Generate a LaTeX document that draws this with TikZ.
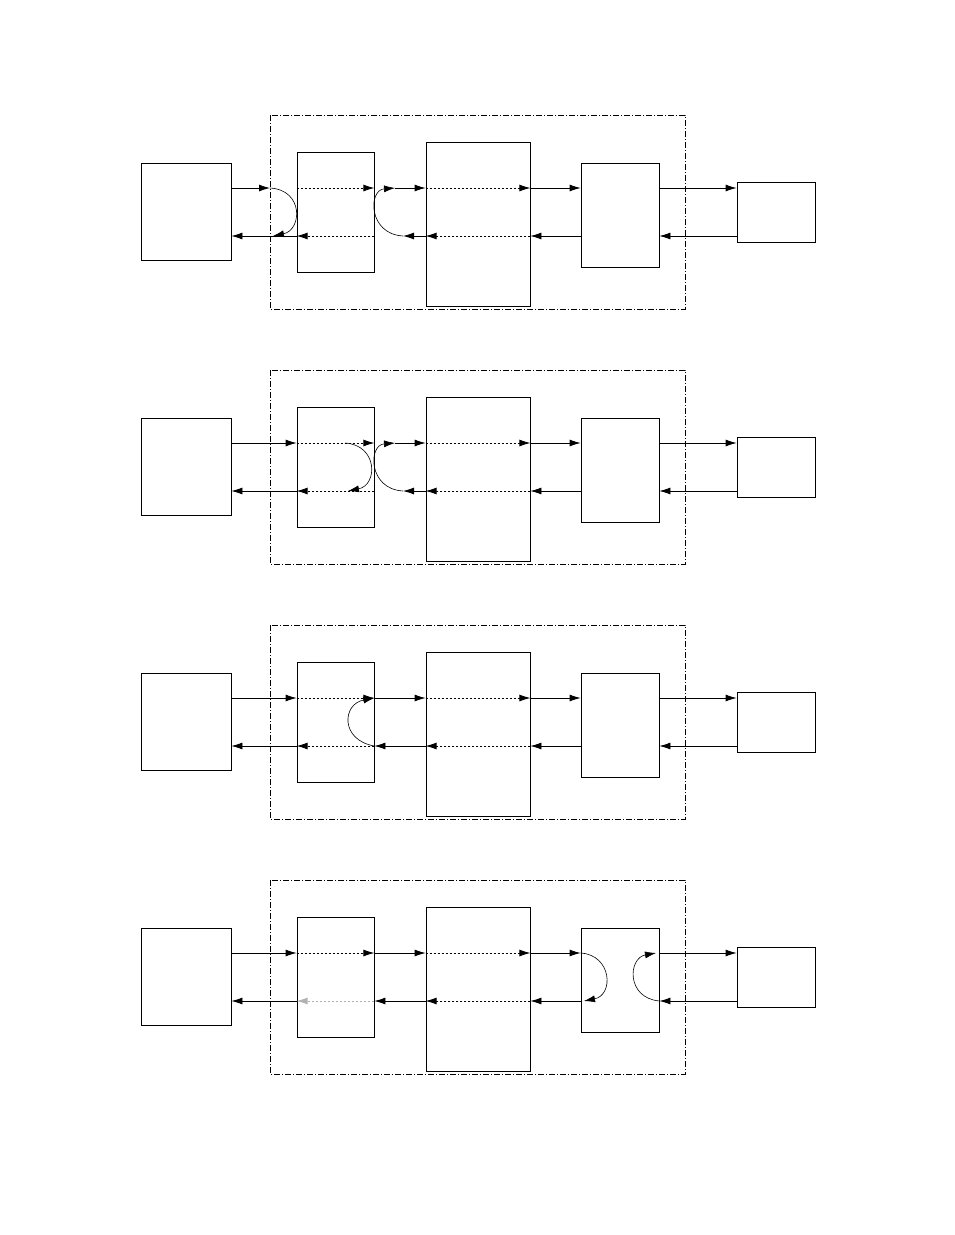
\documentclass[tikz,border=0pt]{standalone}
\usetikzlibrary{arrows.meta}
\tikzset{
    box/.style={draw, line width=0.8pt, inner sep=0pt},
    link/.style={line width=0.8pt, -{Latex[length=11pt,width=7pt]}},
    inner/.style={link, dash pattern=on 2.5pt off 1.5pt},
    turn/.style={line width=0.6pt, -{Latex[length=11pt,width=7pt]}},
    frame/.style={line width=0.6pt, dash pattern=on 6pt off 2pt on 1pt off 2pt}
}
\begin{document}
\begin{tikzpicture}[x=1pt,y=-1pt]
    \useasboundingbox (0,0) rectangle (954,1235);
    \foreach \p/\dy/\col in {1/0/black,2/255/black,3/510/black,4/765/gray!60} {
        % boxes of one panel
        \draw[frame] (270,115+\dy) rectangle (685,309+\dy);
        \node[box, minimum width=90pt, minimum height=97pt] (L\p) at (186,211.5+\dy) {};
        \node[box, minimum width=77pt, minimum height=120pt] (A\p) at (335.5,212+\dy) {};
        \node[box, minimum width=104pt, minimum height=164pt] (B\p) at (478,224+\dy) {};
        \node[box, minimum width=78pt, minimum height=104pt] (C\p) at (620,215+\dy) {};
        \node[box, minimum width=78pt, minimum height=60pt] (R\p) at (776,212+\dy) {};
        \coordinate (t\p) at (0,188+\dy);
        \coordinate (b\p) at (0,236+\dy);
        % shared connectors
        \draw[inner] (A\p.west |- t\p) -- (A\p.east |- t\p);
        \draw[inner] (B\p.west |- t\p) -- (B\p.east |- t\p);
        \draw[link] (B\p.east |- t\p) -- (C\p.west |- t\p);
        \draw[link] (C\p.east |- t\p) -- (R\p.west |- t\p);
        \draw[link] (R\p.west |- b\p) -- (C\p.east |- b\p);
        \draw[link] (C\p.west |- b\p) -- (B\p.east |- b\p);
        \draw[inner] (B\p.east |- b\p) -- (B\p.west |- b\p);
        \draw[inner, draw=\col] (A\p.east |- b\p) -- (A\p.west |- b\p);
    }
    % panel 1
    \coordinate (in1) at (270,188);
    \coordinate (out1) at (270,236);
    \draw[link] (L1.east |- t1) -- (in1);
    \draw (out1) -- (A1.west |- b1);
    \draw[link] (out1) -- (L1.east |- b1);
    \draw[turn] (in1) .. controls (304,190) and (302,230) .. (273,236);
    \coordinate (r1) at (403,236);
    \coordinate (s1) at (395,188);
    \draw[link] (B1.west |- b1) -- (r1);
    \draw[turn] (r1) .. controls (368,234) and (368,190) .. (s1);
    \draw[link] (s1) -- (B1.west |- t1);
    % panel 2
    \draw[link] (L2.east |- t2) -- (A2.west |- t2);
    \draw[link] (A2.west |- b2) -- (L2.east |- b2);
    \draw[turn] (345,443) .. controls (378,445) and (378,485) .. (348,491);
    \coordinate (r2) at (403,491);
    \coordinate (s2) at (395,443);
    \draw[link] (B2.west |- b2) -- (r2);
    \draw[turn] (r2) .. controls (368,489) and (368,445) .. (s2);
    \draw[link] (s2) -- (B2.west |- t2);
    % panel 3
    \draw[link] (L3.east |- t3) -- (A3.west |- t3);
    \draw[link] (A3.west |- b3) -- (L3.east |- b3);
    \draw[link] (A3.east |- t3) -- (B3.west |- t3);
    \draw[link] (B3.west |- b3) -- (A3.east |- b3);
    \draw[turn] (A3.east |- b3) .. controls (340,740) and (342,704) .. (A3.east |- t3);
    % panel 4
    \draw[link] (L4.east |- t4) -- (A4.west |- t4);
    \draw[link] (A4.west |- b4) -- (L4.east |- b4);
    \draw[link] (A4.east |- t4) -- (B4.west |- t4);
    \draw[link] (B4.west |- b4) -- (A4.east |- b4);
    \draw[turn] (C4.west |- t4) .. controls (612,955) and (614,995) .. (584,1001);
    \draw[turn] (C4.east |- b4) .. controls (626,998) and (628,958) .. (656,953);
\end{tikzpicture}
\end{document}
